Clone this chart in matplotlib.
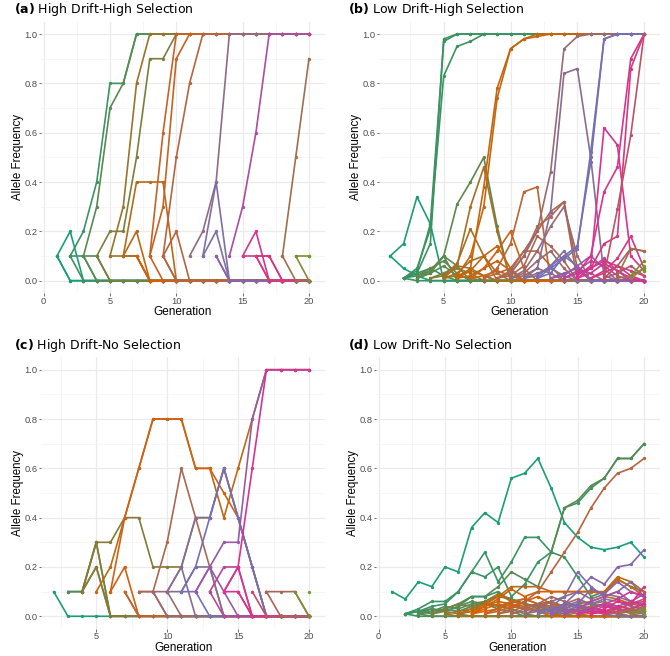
#*******************************************************************************
#plot.py
#*******************************************************************************
#Purpose:
#Allele frequency trajectories under four drift/selection scenarios, each
#allele coloured by the generation in which it arose.

import numpy
import matplotlib
matplotlib.use('Agg')
import matplotlib.pyplot as plt
from matplotlib.colors import LinearSegmentedColormap
from matplotlib.ticker import MultipleLocator


#*******************************************************************************
#Data: (generation of origin, frequencies from that generation on)
#*******************************************************************************
traj_a=[
(1,[0.1,0.2,0.0]),
(1,[0.1,0.0]),
(1,[0.1,0.0]),
(2,[0.1,0.2,0.4,0.8,0.8,1.0]),
(2,[0.1,0.0]),
(2,[0.1,0.1,0.0]),
(3,[0.1,0.3,0.7,0.8,1.0]),
(3,[0.1,0.0]),
(3,[0.1,0.1,0.0]),
(4,[0.1,0.2,0.2,0.5,0.9,0.9,1.0]),
(4,[0.1,0.0]),
(5,[0.1,0.3,0.8,1.0]),
(5,[0.1,0.1,0.1,0.0]),
(6,[0.1,0.4,0.4,0.4,0.0]),
(6,[0.1,0.2,0.0]),
(6,[0.1,0.1,0.0]),
(7,[0.1,0.0]),
(7,[0.1,0.0]),
(8,[0.1,0.6,1.0]),
(8,[0.1,0.3,0.9,1.0]),
(8,[0.1,0.0]),
(9,[0.1,0.5,0.8,1.0]),
(9,[0.1,0.2,0.0]),
(9,[0.1,0.0]),
(9,[0.1,0.0]),
(11,[0.1,0.2,0.4,1.0]),
(12,[0.1,0.4,0.0]),
(12,[0.1,0.2,0.0]),
(13,[0.1,0.0]),
(13,[0.1,0.0]),
(14,[0.1,0.3,0.6,1.0]),
(15,[0.1,0.2,0.0]),
(15,[0.1,0.1,0.1,0.0]),
(16,[0.1,0.0]),
(16,[0.1,0.1,0.0]),
(16,[0.1,0.0]),
(18,[0.1,0.5,0.9]),
(18,[0.1,0.0]),
(19,[0.1,0.1]),
(19,[0.1,0.0]),
(20,[0.1]),
(20,[0.1]),
]

traj_b=[
(1,[0.10,0.15,0.34,0.23,0.0]),
(1,[0.10,0.05,0.02,0.0]),
(2,[0.01,0.03,0.15,0.98,1.0]),
(2,[0.01,0.05,0.21,0.83,0.95,0.97,1.0]),
(2,[0.01,0.04,0.23,0.97,1.0]),
(2,[0.01,0.02,0.04,0.10,0.0]),
(2,[0.01,0.03,0.05,0.02,0.0]),
(2,[0.01,0.0]),
(3,[0.01,0.03,0.10,0.31,0.40,0.50,0.22,0.0]),
(3,[0.01,0.03,0.06,0.02,0.01,0.0]),
(3,[0.02,0.05,0.08,0.03,0.0]),
(3,[0.01,0.04,0.10,0.06,0.0]),
(4,[0.01,0.02,0.05,0.03,0.0]),
(4,[0.01,0.03,0.06,0.05,0.02,0.0]),
(5,[0.01,0.06,0.30,0.46,0.20,0.0]),
(5,[0.02,0.07,0.21,0.10,0.0]),
(5,[0.01,0.02,0.04,0.02,0.0]),
(5,[0.01,0.03,0.08,0.10,0.03,0.0]),
(6,[0.01,0.05,0.38,0.78,0.94,0.98,1.0]),
(6,[0.02,0.10,0.30,0.74,0.94,0.98,0.99,1.0]),
(6,[0.01,0.02,0.05,0.08,0.04,0.0]),
(6,[0.01,0.04,0.10,0.14,0.05,0.0]),
(7,[0.01,0.05,0.12,0.20,0.05,0.0]),
(7,[0.01,0.02,0.04,0.02,0.0]),
(8,[0.01,0.03,0.05,0.12,0.12,0.06,0.0]),
(8,[0.01,0.05,0.15,0.36,0.38,0.0]),
(9,[0.01,0.03,0.10,0.22,0.26,0.32,0.05,0.0]),
(9,[0.01,0.04,0.12,0.20,0.28,0.32,0.0]),
(9,[0.01,0.02,0.06,0.18,0.14,0.08,0.0]),
(10,[0.03,0.10,0.20,0.44,0.94,0.99,1.0]),
(10,[0.01,0.04,0.12,0.22,0.30,0.10,0.0]),
(10,[0.01,0.02,0.05,0.03,0.0]),
(10,[0.01,0.03,0.08,0.12,0.05,0.0]),
(11,[0.01,0.05,0.28,0.84,0.86,0.50,0.02,0.0]),
(11,[0.01,0.02,0.06,0.12,0.05,0.0]),
(11,[0.01,0.03,0.05,0.02,0.0]),
(12,[0.02,0.06,0.10,0.14,0.48,0.98,1.0]),
(12,[0.01,0.05,0.09,0.13,0.52,0.98,1.0]),
(12,[0.01,0.03,0.10,0.06,0.0]),
(13,[0.01,0.03,0.05,0.03,0.0]),
(13,[0.01,0.02,0.06,0.10,0.05,0.0]),
(14,[0.01,0.04,0.08,0.06,0.02,0.0]),
(14,[0.01,0.03,0.05,0.09,0.04,0.0]),
(15,[0.02,0.06,0.62,0.55,0.10,0.04]),
(15,[0.03,0.10,0.36,0.46,0.90,1.0]),
(15,[0.01,0.05,0.08,0.06,0.02,0.0]),
(15,[0.01,0.03,0.07,0.04,0.01,0.0]),
(16,[0.05,0.15,0.18,0.86,1.0]),
(16,[0.01,0.03,0.06,0.04,0.02]),
(16,[0.01,0.04,0.09,0.18,0.05]),
(17,[0.02,0.29,0.59,1.0]),
(17,[0.01,0.06,0.13,0.12]),
(17,[0.01,0.03,0.06,0.02]),
(18,[0.01,0.02,0.05]),
(18,[0.02,0.13,0.12]),
(19,[0.02,0.08]),
(19,[0.01,0.05]),
(20,[0.06]),
(20,[0.04]),
]

traj_c=[
(2,[0.1,0.0]),
(3,[0.1,0.1,0.3,0.0]),
(3,[0.1,0.1,0.2,0.0]),
(4,[0.1,0.3,0.0]),
(4,[0.1,0.2,0.0]),
(4,[0.1,0.3,0.3,0.4,0.4,0.2,0.2,0.2,0.4,0.4,0.6,0.4,0.2,0.0]),
(5,[0.1,0.2,0.4,0.6,0.8,0.8,0.8,0.6,0.6,0.4,0.6,0.8,1.0]),
(6,[0.1,0.4,0.6,0.8,0.8,0.8,0.6,0.6,0.5,0.4,0.2,0.0]),
(6,[0.1,0.2,0.0]),
(7,[0.1,0.0]),
(7,[0.1,0.0]),
(8,[0.1,0.1,0.3,0.6,0.4,0.2,0.0]),
(8,[0.1,0.1,0.0]),
(9,[0.1,0.0]),
(9,[0.1,0.1,0.0]),
(10,[0.1,0.2,0.4,0.4,0.6,0.4,0.2,0.0]),
(10,[0.1,0.1,0.2,0.2,0.0]),
(10,[0.1,0.2,0.0]),
(11,[0.1,0.2,0.4,0.6,0.4,0.2,0.0]),
(11,[0.1,0.1,0.0]),
(12,[0.1,0.2,0.3,0.3,0.8,1.0]),
(12,[0.1,0.2,0.1,0.0]),
(13,[0.1,0.2,0.2,0.0]),
(13,[0.1,0.0]),
(14,[0.1,0.2,0.6,1.0]),
(14,[0.1,0.1,0.0]),
(14,[0.1,0.2,0.0]),
(15,[0.1,0.0]),
(16,[0.1,0.0]),
(17,[0.1,0.1,0.1,0.0]),
(17,[0.1,0.0]),
(19,[0.1,0.0]),
(20,[0.1]),
]

traj_d=[
(1,[0.10,0.07,0.14,0.12,0.20,0.18,0.36,0.42,0.38,0.56,0.58,0.64,0.52,0.38,
    0.32,0.28,0.27,0.28,0.30,0.24]),
(2,[0.01,0.02,0.04,0.05,0.10,0.18,0.16,0.20,0.08,0.13,0.22,0.26,0.44,0.46,
    0.52,0.56,0.64,0.64,0.70]),
(2,[0.01,0.03,0.06,0.06,0.10,0.18,0.26,0.14,0.22,0.32,0.32,0.26,0.24,0.16,
    0.08,0.10,0.15,0.12,0.10]),
(3,[0.01,0.02,0.03,0.05,0.08,0.08,0.12,0.18,0.15,0.12,0.26,0.44,0.47,0.53,
    0.56,0.64,0.64,0.70]),
(2,[0.01,0.02,0.01,0.03,0.02,0.04,0.05,0.03,0.02,0.0]),
(2,[0.01,0.0]),
(2,[0.01,0.02,0.03,0.02,0.04,0.08,0.08,0.10,0.06,0.05,0.04,0.03,0.02,0.01,
    0.0]),
(3,[0.01,0.02,0.04,0.03,0.05,0.06,0.04,0.03,0.01,0.0]),
(3,[0.01,0.0]),
(3,[0.01,0.03,0.02,0.04,0.06,0.05,0.08,0.07,0.05,0.04,0.06,0.03,0.02,0.04,
    0.05,0.03,0.02,0.01]),
(4,[0.01,0.02,0.01,0.0]),
(4,[0.01,0.03,0.05,0.04,0.06,0.09,0.07,0.05,0.04,0.02,0.01,0.0]),
(5,[0.01,0.02,0.03,0.05,0.04,0.06,0.05,0.03,0.02,0.0]),
(5,[0.01,0.0]),
(6,[0.01,0.03,0.05,0.08,0.12,0.12,0.12,0.10,0.10,0.10,0.10,0.10,0.16,0.14,
    0.10]),
(6,[0.01,0.02,0.04,0.06,0.05,0.03,0.02,0.01,0.0]),
(6,[0.01,0.02,0.05,0.09,0.06,0.07,0.05,0.04,0.03,0.05,0.06,0.08,0.07,0.05,
    0.04]),
(7,[0.01,0.04,0.07,0.11,0.08,0.10,0.10,0.10,0.10,0.10,0.09,0.15,0.12,0.08]),
(7,[0.01,0.02,0.03,0.05,0.04,0.02,0.0]),
(7,[0.01,0.03,0.05,0.04,0.06,0.08,0.05,0.03,0.02,0.01,0.02,0.01,0.0]),
(8,[0.01,0.02,0.04,0.03,0.05,0.04,0.02,0.01,0.0]),
(8,[0.01,0.03,0.06,0.07,0.05,0.06,0.04,0.05,0.03,0.02,0.03,0.01,0.0]),
(9,[0.01,0.03,0.06,0.10,0.18,0.26,0.34,0.44,0.52,0.58,0.60,0.64]),
(9,[0.01,0.02,0.04,0.05,0.03,0.02,0.03,0.04,0.02,0.01,0.0]),
(10,[0.01,0.02,0.04,0.03,0.05,0.07,0.05,0.04,0.03,0.02,0.01]),
(10,[0.01,0.03,0.05,0.08,0.06,0.04,0.05,0.06,0.04,0.03,0.02]),
(11,[0.01,0.02,0.03,0.05,0.04,0.02,0.01,0.0]),
(11,[0.01,0.03,0.06,0.08,0.10,0.07,0.09,0.08,0.06,0.05]),
(12,[0.01,0.04,0.08,0.18,0.12,0.08,0.10,0.14,0.08]),
(12,[0.01,0.02,0.04,0.06,0.05,0.07,0.06,0.04,0.03]),
(12,[0.01,0.03,0.02,0.04,0.03,0.02,0.01,0.0]),
(13,[0.02,0.05,0.10,0.16,0.13,0.20,0.21,0.27]),
(13,[0.01,0.03,0.05,0.11,0.09,0.14,0.10,0.08]),
(13,[0.01,0.02,0.04,0.03,0.05,0.03,0.02,0.01]),
(14,[0.01,0.03,0.06,0.08,0.10,0.06,0.09]),
(14,[0.01,0.02,0.03,0.05,0.04,0.06,0.04]),
(15,[0.01,0.03,0.05,0.07,0.10,0.08]),
(15,[0.01,0.02,0.04,0.03,0.05,0.06]),
(15,[0.01,0.02,0.01,0.02,0.03,0.02]),
(16,[0.01,0.03,0.06,0.05,0.12]),
(16,[0.01,0.02,0.04,0.03,0.05]),
(17,[0.01,0.03,0.05,0.07]),
(17,[0.01,0.02,0.03,0.02]),
(18,[0.01,0.02,0.04]),
(18,[0.01,0.03,0.02]),
(19,[0.01,0.03]),
(19,[0.01,0.02]),
(20,[0.01]),
]

titles=['High Drift-High Selection','Low Drift-High Selection',
        'High Drift-No Selection','Low Drift-No Selection']
tags=['(a)','(b)','(c)','(d)']
xticks=[[0,5,10,15,20],[5,10,15,20],[5,10,15,20],[0,5,10,15,20]]
yticks=[0.0,0.2,0.4,0.6,0.8,1.0]


#*******************************************************************************
#Layout (pixels of a 670x656 figure) and colours
#*******************************************************************************
W=670.
H=656.
#left, right, top, bottom of each panel
boxes=[(41.4,324.5,21.7,293.0),(378.9,659.5,21.7,293.0),
       (41.4,325.0,357.4,628.6),(376.4,659.6,357.4,628.6)]
xlims=[(-0.17,21.17),(0.15,21.15),(1.13,21.13),(-0.17,21.17)]
title_xy=[(14,10),(348,10),(14,345),(348,345)]

#generation at which each Dark2 colour is reached, per panel
ramp_cols=['#1B9E77','#D95F02','#7570B3','#E7298A','#66A61E']
ramp_gens=[[1,7,12.5,15.5,20],[1,6.5,12,15.5,20],
           [2,5.5,11,14.5,20],[1,7,12.5,16,20]]

plt.rcParams['font.family']=['Liberation Sans','DejaVu Sans']

fig=plt.figure(figsize=(W/100,H/100),dpi=100)
fig.patch.set_facecolor('white')

all_traj=[traj_a,traj_b,traj_c,traj_d]

for JS,traj in enumerate(all_traj):
     l,r,t,b=boxes[JS]
     ax=fig.add_axes([l/W,1-b/H,(r-l)/W,(b-t)/H])

     g=ramp_gens[JS]
     pos=[(gi-g[0])/(g[-1]-g[0]) for gi in g]
     cmap=LinearSegmentedColormap.from_list('d2',list(zip(pos,ramp_cols)))

     for org,vals in traj:
          vals=list(vals)[:21-org]
          #lost alleles stay at 0, fixed ones at 1
          if vals[-1] in (0.0,1.0):
               vals=vals+[vals[-1]]*(21-org-len(vals))
          gens=numpy.arange(org,org+len(vals))
          col=cmap((org-g[0])/(g[-1]-g[0]))
          ax.plot(gens,vals,color=col,linewidth=1.2,marker='o',
                  markersize=2.4,markeredgewidth=0,zorder=3)

     ax.set_xlim(*xlims[JS])
     ax.set_ylim(-0.05,1.05)
     ax.set_xticks(xticks[JS])
     ax.set_yticks(yticks)
     ax.set_yticklabels(['%.1f' % v for v in yticks])
     ax.xaxis.set_minor_locator(MultipleLocator(2.5))
     ax.yaxis.set_minor_locator(MultipleLocator(0.1))
     ax.grid(which='major',color='#EBEBEB',linewidth=0.9,zorder=0)
     ax.grid(which='minor',color='#F3F3F3',linewidth=0.5,zorder=0)
     ax.set_axisbelow(True)
     for s in ax.spines.values():
          s.set_visible(False)
     ax.tick_params(which='major',length=1.8,width=0.5,color='#333333',
                    labelsize=6.7,labelcolor='#4D4D4D',pad=0.8)
     ax.tick_params(which='minor',length=0)

     cx=(l+r)/2.
     fig.text(cx/W,1-(b+19.5)/H,'Generation',ha='center',va='center',
              fontsize=8.5)
     fig.text((l-23)/W,1-((t+b)/2.)/H,'Allele Frequency',rotation=90,
              ha='center',va='center',fontsize=8.3)
     tx,ty=title_xy[JS]
     fig.text(tx/W,1-ty/H,r'$\mathbf{'+tags[JS]+'}$ '+titles[JS],
              ha='left',va='center',fontsize=9.0,family='DejaVu Sans')

plt.savefig('out.png',dpi=100,facecolor='white')
